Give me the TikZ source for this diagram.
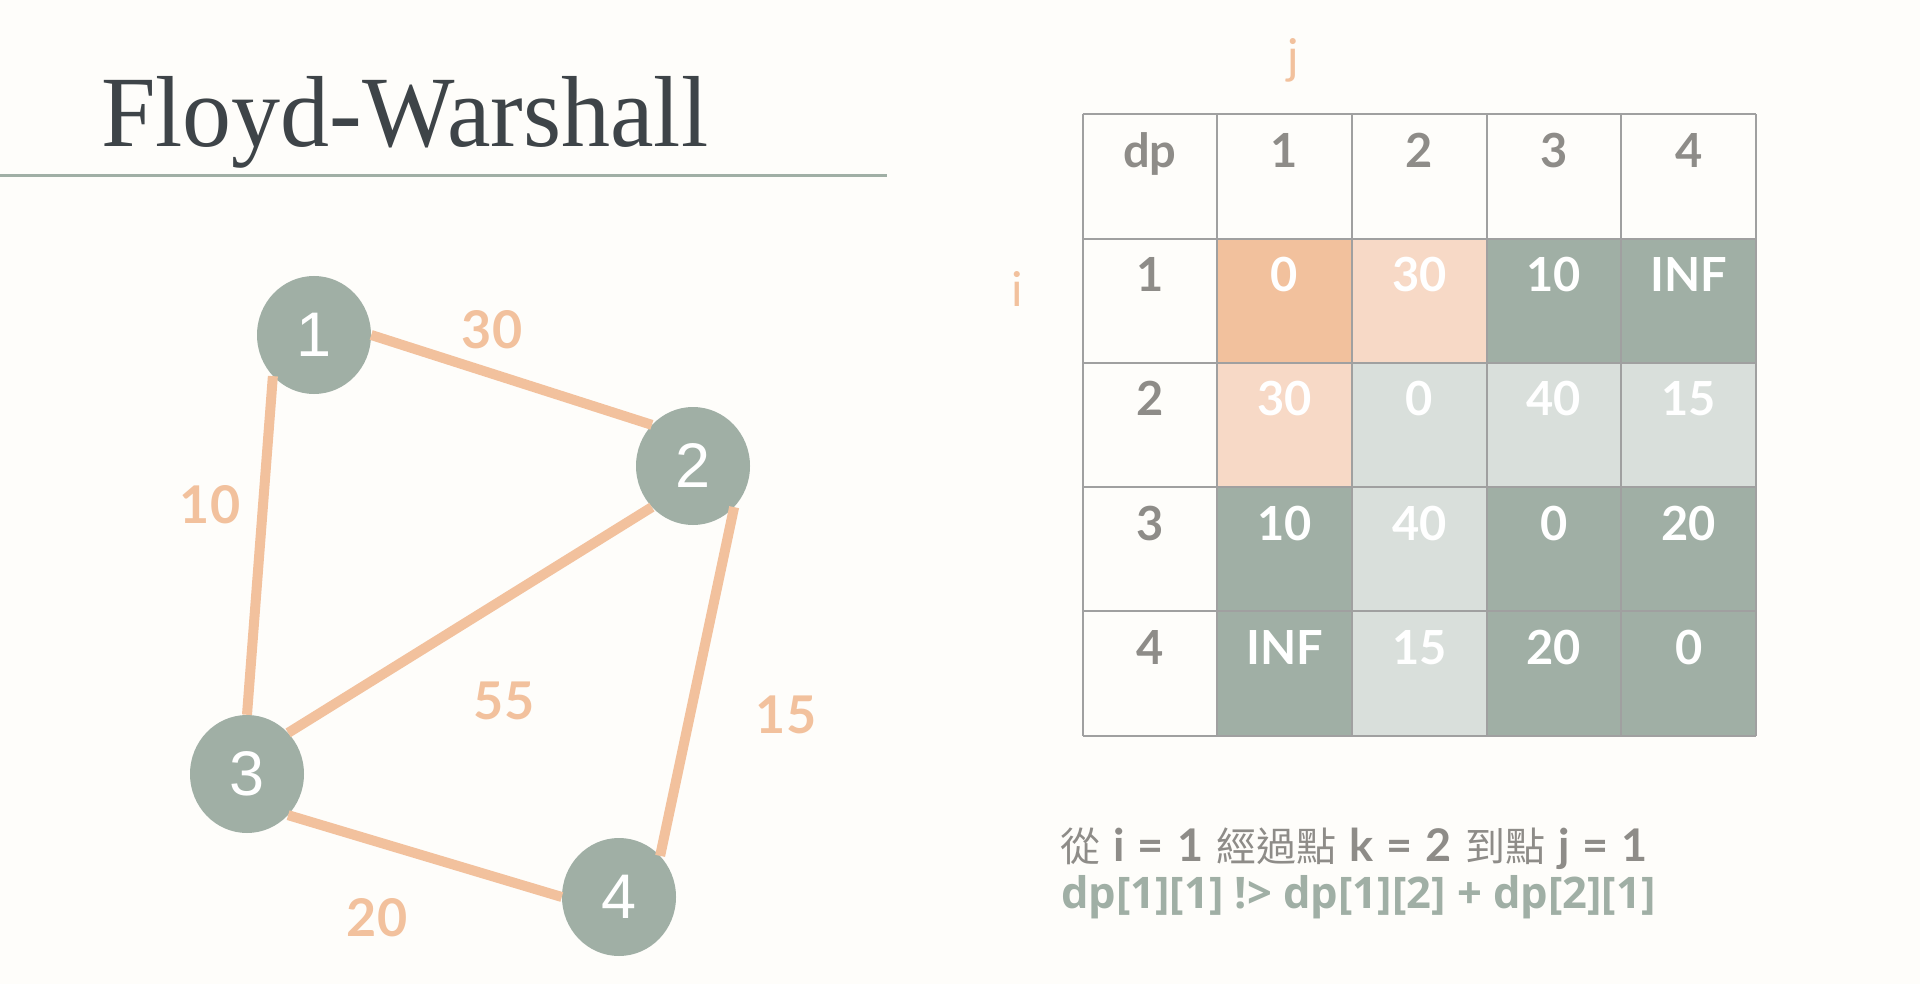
\documentclass[tikz,border=0pt]{standalone}
\usepackage{fontspec}
\usetikzlibrary{shapes.geometric}
\setmainfont{Lato}
\newfontfamily\titlefont[FakeStretch=0.97]{Liberation Serif}
\newfontfamily\nodefont{Liberation Sans}
\newfontfamily\latofont{Lato}
\newfontfamily\notefont[WordSpace=1.2]{Lato}
\newfontfamily\cjkfont{Noto Sans CJK TC}
\newfontfamily\codefont{Open Sans}
\definecolor{bg}{HTML}{FEFDFA}
\definecolor{sage}{HTML}{A0AFA5}
\definecolor{peach}{HTML}{F2C19D}
\definecolor{lpeach}{HTML}{F7D9C6}
\definecolor{lgray}{HTML}{D9DFDB}
\definecolor{graytext}{HTML}{8E8C88}
\definecolor{titlecol}{HTML}{3E4448}
\definecolor{gridcol}{HTML}{A0A0A0}
\newcommand\dpcell[4]{%
  \fill[#3] ({1082.5+134.7*#1},{114.5+124.2*#2}) rectangle ++(134.7,124.2);
  \node[valtext] (v#2#1) at ({1082.5+134.7*#1+67.35},{114.5+124.2*#2+53}) {#4};
}
\newcommand\dplabel[3]{%
  \node[labtext] (l#2#1) at ({1082.5+134.7*#1+67.35},{114.5+124.2*#2+53}) {#3};
}
\newcommand\cjkpart[1]{{\cjkfont\mdseries\fontsize{40}{40}\selectfont #1}}
\begin{document}
\begin{tikzpicture}[x=1pt,y=-1pt,
  vertex/.style={ellipse, fill=sage, minimum width=114pt, minimum height=118pt, inner sep=0pt, text=white, font=\nodefont\fontsize{63}{63}\selectfont},
  edge/.style={draw=peach, line width=10pt},
  wlabel/.style={inner sep=0pt, text=peach, font=\latofont\bfseries\fontsize{52}{52}\selectfont},
  valtext/.style={anchor=base, inner sep=0pt, text=white, font=\latofont\bfseries\fontsize{47}{47}\selectfont},
  labtext/.style={anchor=base, inner sep=0pt, text=graytext, font=\latofont\bfseries\fontsize{47}{47}\selectfont},
  gridline/.style={draw=gridcol, line width=2pt},
  axis/.style={anchor=base, inner sep=0pt, text=peach, font=\latofont\fontsize{48}{48}\selectfont}]
\fill[bg] (0,0) rectangle (1920,984);
\useasboundingbox (0,0) rectangle (1920,984);
% title
\node[anchor=base west, inner sep=0pt, text=titlecol, font=\titlefont\fontsize{101}{101}\selectfont] (title) at (101,147) {Floyd-Warshall};
\draw[sage, line width=3.5pt] (0,175.5) -- (887,175.5);
% graph
\node[vertex] (n1) at (314,335) {1};
\node[vertex] (n2) at (693,466) {2};
\node[vertex] (n3) at (247,774) {3};
\node[vertex] (n4) at (619,897) {4};
\draw[edge] (n1.0) -- (n2.135);
\draw[edge] (n1.225) -- (n3.90);
\draw[edge] (n2.225) -- (n3.45);
\draw[edge] (n2.315) -- (n4.45);
\draw[edge] (n3.315) -- (n4.180);
\node[wlabel] (w12) at (492,330) {30};
\node[wlabel] (w13) at (210,505) {10};
\node[wlabel] (w23) at (504,701) {55};
\node[wlabel] (w24) at (786,715) {15};
\node[wlabel] (w34) at (377,918) {20};
% table
\dplabel{0}{0}{dp}
\dplabel{1}{0}{1}
\dplabel{2}{0}{2}
\dplabel{3}{0}{3}
\dplabel{4}{0}{4}
\dplabel{0}{1}{1}
\dplabel{0}{2}{2}
\dplabel{0}{3}{3}
\dplabel{0}{4}{4}
\dpcell{1}{1}{peach}{0}
\dpcell{2}{1}{lpeach}{30}
\dpcell{3}{1}{sage}{10}
\dpcell{4}{1}{sage}{INF}
\dpcell{1}{2}{lpeach}{30}
\dpcell{2}{2}{lgray}{0}
\dpcell{3}{2}{lgray}{40}
\dpcell{4}{2}{lgray}{15}
\dpcell{1}{3}{sage}{10}
\dpcell{2}{3}{lgray}{40}
\dpcell{3}{3}{sage}{0}
\dpcell{4}{3}{sage}{20}
\dpcell{1}{4}{sage}{INF}
\dpcell{2}{4}{lgray}{15}
\dpcell{3}{4}{sage}{20}
\dpcell{4}{4}{sage}{0}
\foreach \k in {0,...,5} {
  \draw[gridline] ({1082.5+134.7*\k},114.5) -- ({1082.5+134.7*\k},735.5);
  \draw[gridline] (1082.5,{114.5+124.2*\k}) -- (1756,{114.5+124.2*\k});
}
\node[axis] (jlab) at (1293,74) {j};
\node[axis] (ilab) at (1017,307) {i};
% note
\node[anchor=base west, inner sep=0pt, text=graytext, font=\notefont\bfseries\fontsize{45}{45}\selectfont] (note1) at (1060,861) {\cjkpart{從} i = 1 \cjkpart{經過點} k = 2 \cjkpart{到點} j = 1};
\node[anchor=base west, inner sep=0pt, text=sage, font=\codefont\bfseries\fontsize{43.5}{43.5}\selectfont] (note2) at (1061,908) {dp[1][1] !> dp[1][2] + dp[2][1]};
\end{tikzpicture}
\end{document}
